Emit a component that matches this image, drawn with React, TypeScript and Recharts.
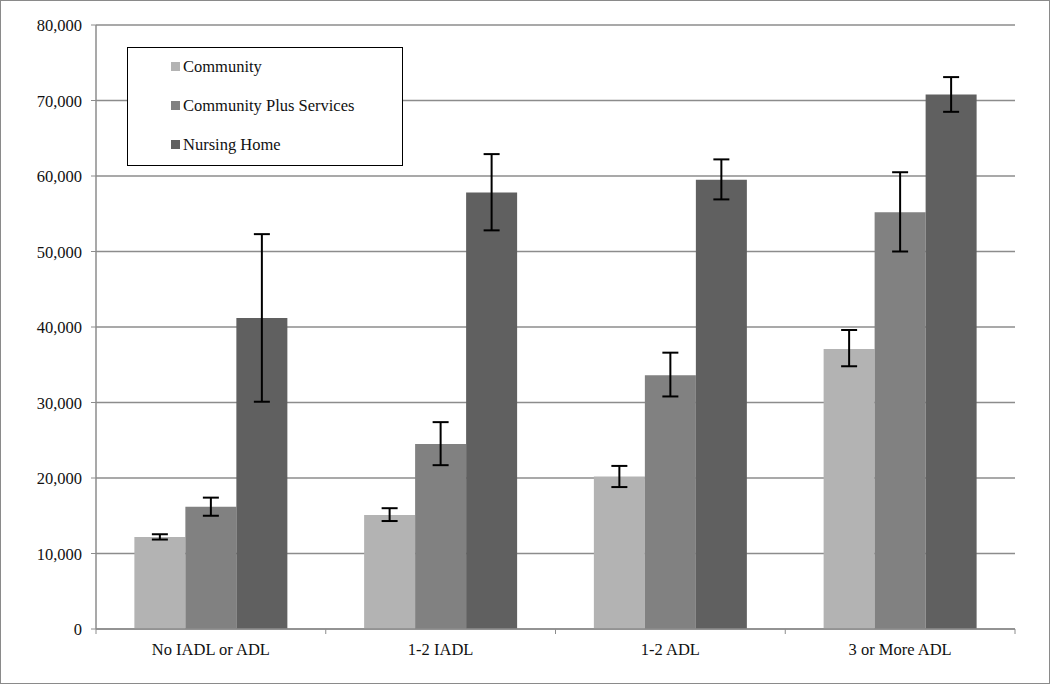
import React from 'react';
import { BarChart, Bar, XAxis, YAxis, CartesianGrid, ErrorBar } from 'recharts';

const categories = ['No IADL or ADL', '1-2 IADL', '1-2 ADL', '3 or More ADL'];

const community = [12200, 15100, 20200, 37100];
const communityLow = [11850, 14300, 18800, 34800];
const communityHigh = [12550, 16000, 21600, 39600];

const communityPlus = [16200, 24500, 33600, 55200];
const communityPlusLow = [15000, 21700, 30800, 50000];
const communityPlusHigh = [17400, 27400, 36600, 60500];

const nursingHome = [41200, 57800, 59500, 70800];
const nursingHomeLow = [30100, 52800, 56900, 68500];
const nursingHomeHigh = [52300, 62900, 62200, 73100];

const yTicks = [0, 10000, 20000, 30000, 40000, 50000, 60000, 70000, 80000];

const seriesNames = ['Community', 'Community Plus Services', 'Nursing Home'];
const COLORS = ['#b3b3b3', '#818181', '#606060'];

const data = categories.map((name, i) => ({
    name,
    community: community[i],
    communityErr: [community[i] - communityLow[i], communityHigh[i] - community[i]],
    communityPlus: communityPlus[i],
    communityPlusErr: [communityPlus[i] - communityPlusLow[i], communityPlusHigh[i] - communityPlus[i]],
    nursingHome: nursingHome[i],
    nursingHomeErr: [nursingHome[i] - nursingHomeLow[i], nursingHomeHigh[i] - nursingHome[i]],
}));

const W = 1050;
const H = 684;
const MARGIN = { top: 25, right: 35, bottom: 25, left: 36 };
const Y_AXIS_W = 60;
const FONT = '"Liberation Serif", "DejaVu Serif", serif';
const FONT_SIZE = 16.5;
const band = (W - MARGIN.left - MARGIN.right - Y_AXIS_W) / categories.length;

// category label plus boundary tick marks
const XTick = (props: any) => {
    const { x, y, payload, index } = props;
    const left = x - band / 2;
    const right = x + band / 2;
    return (
        <g>
            <line x1={left} y1={y - 8} x2={left} y2={y - 3} stroke="#8c8c8c" strokeWidth={1} />
            {index === categories.length - 1 && (
                <line x1={right} y1={y - 8} x2={right} y2={y - 3} stroke="#8c8c8c" strokeWidth={1} />
            )}
            <text x={x} y={y + 18} textAnchor="middle" fontSize={FONT_SIZE} fill="#111" fontFamily={FONT}>
                {payload.value}
            </text>
        </g>
    );
};

const YTick = (props: any) => {
    const { x, y, payload } = props;
    return (
        <text x={x - 7} y={y + 6} textAnchor="end" fontSize={FONT_SIZE} fill="#111" fontFamily={FONT}>
            {Number(payload.value).toLocaleString('en-US')}
        </text>
    );
};

const LegendBox = () => (
    <div
        style={{
            position: 'absolute',
            left: 126,
            top: 46,
            width: 276,
            height: 119,
            border: '1.5px solid #000',
            background: '#fff',
            boxSizing: 'border-box',
            paddingLeft: 43,
            fontFamily: FONT,
            fontSize: FONT_SIZE,
            color: '#111',
        }}
    >
        {seriesNames.map((n, i) => (
            <div key={n} style={{ display: 'flex', alignItems: 'center', height: 39, marginTop: i === 0 ? -1 : 0 }}>
                <span style={{ width: 9, height: 9, background: COLORS[i], marginRight: 3, display: 'inline-block' }} />
                <span>{n}</span>
            </div>
        ))}
    </div>
);

export default function App() {
    return (
        <div
            style={{
                position: 'absolute',
                left: 0,
                top: 0,
                width: W,
                height: H,
                border: '1px solid #8a8a8a',
                boxSizing: 'border-box',
                background: '#fff',
            }}
        >
            <div style={{ position: 'absolute', left: -1, top: -1 }}>
                <BarChart width={W} height={H} data={data} margin={MARGIN} barGap={0} barCategoryGap="16.7%">
                    <CartesianGrid vertical={false} stroke="#8c8c8c" strokeWidth={1.5} />
                    <XAxis
                        dataKey="name"
                        axisLine={{ stroke: '#8c8c8c', strokeWidth: 1.5 }}
                        tickLine={false}
                        tick={<XTick />}
                        interval={0}
                        height={30}
                    />
                    <YAxis
                        width={Y_AXIS_W}
                        domain={[0, 80000]}
                        ticks={yTicks}
                        interval={0}
                        axisLine={{ stroke: '#8c8c8c', strokeWidth: 1.5 }}
                        tickLine={{ stroke: '#8c8c8c' }}
                        tickSize={5}
                        tick={<YTick />}
                    />
                    <Bar dataKey="community" name={seriesNames[0]} fill={COLORS[0]} isAnimationActive={false}>
                        <ErrorBar dataKey="communityErr" width={8} stroke="#000" strokeWidth={2} />
                    </Bar>
                    <Bar dataKey="communityPlus" name={seriesNames[1]} fill={COLORS[1]} isAnimationActive={false}>
                        <ErrorBar dataKey="communityPlusErr" width={8} stroke="#000" strokeWidth={2} />
                    </Bar>
                    <Bar dataKey="nursingHome" name={seriesNames[2]} fill={COLORS[2]} isAnimationActive={false}>
                        <ErrorBar dataKey="nursingHomeErr" width={8} stroke="#000" strokeWidth={2} />
                    </Bar>
                </BarChart>
            </div>
            <LegendBox />
        </div>
    );
}
